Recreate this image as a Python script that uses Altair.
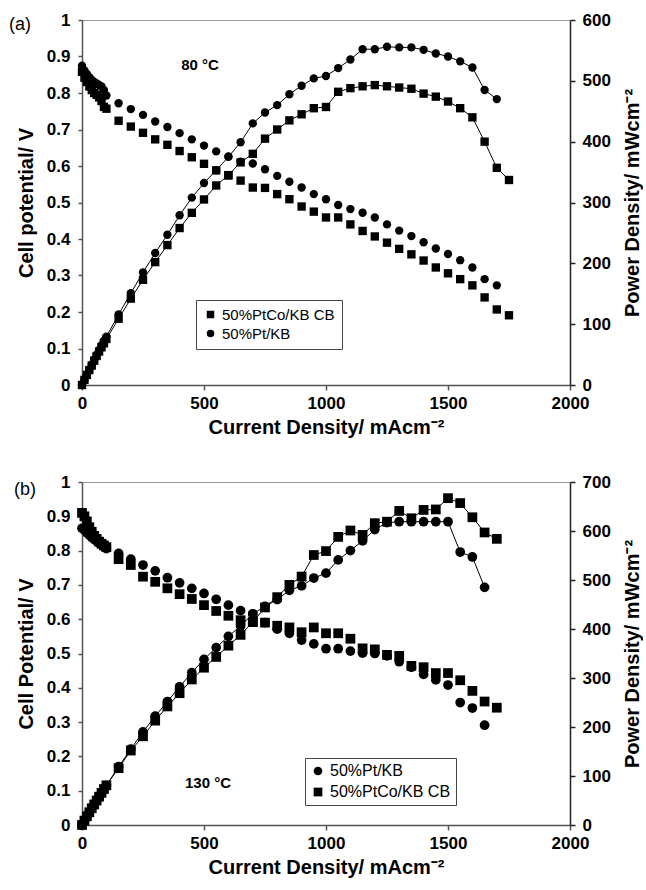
import altair as alt
import pandas as pd

FONT = "Liberation Sans"

# ---------------- 80 °C ----------------
CUR_80_PTCO = [0, 10, 20, 30, 40, 50, 60, 70, 80, 90, 100,
               150, 200, 250, 300, 350, 400, 450, 500, 550, 600,
               650, 700, 750, 800, 850, 900, 950, 1000, 1050, 1100,
               1150, 1200, 1250, 1300, 1350, 1400, 1450, 1500, 1550, 1600,
               1650, 1700, 1750]
V_80_PTCO = [0.858, 0.842, 0.830, 0.818, 0.808, 0.800, 0.795, 0.788, 0.778, 0.762, 0.757,
             0.724, 0.708, 0.691, 0.673, 0.658, 0.641, 0.624, 0.606, 0.588, 0.574,
             0.560, 0.541, 0.540, 0.523, 0.509, 0.489, 0.475, 0.459, 0.459, 0.440,
             0.422, 0.407, 0.390, 0.373, 0.358, 0.341, 0.322, 0.306, 0.290, 0.273,
             0.240, 0.207, 0.191]
P_80_PTCO = [0, 8.4, 16.6, 24.5, 32, 40, 47.7, 55, 62, 68.6, 75.7,
             109, 142, 173, 202, 230, 258, 283, 305, 328, 345,
             366, 380, 405, 420, 435, 445, 455, 457, 482, 488,
             491, 493, 491, 489, 487, 479, 474, 466, 455, 440,
             400, 357, 337]

CUR_80_PT = [0, 10, 20, 30, 40, 50, 60, 70, 80, 90, 100,
             150, 200, 250, 300, 350, 400, 450, 500, 550, 600,
             650, 700, 750, 800, 850, 900, 950, 1000, 1050, 1100,
             1150, 1200, 1250, 1300, 1350, 1400, 1450, 1500, 1550, 1600,
             1650, 1700]
V_80_PT = [0.875, 0.862, 0.852, 0.843, 0.836, 0.830, 0.826, 0.822, 0.818, 0.808, 0.793,
           0.772, 0.756, 0.740, 0.722, 0.707, 0.690, 0.673, 0.656, 0.640, 0.626,
           0.612, 0.607, 0.591, 0.573, 0.557, 0.541, 0.523, 0.509, 0.493, 0.482,
           0.472, 0.459, 0.440, 0.423, 0.408, 0.391, 0.374, 0.359, 0.342, 0.322,
           0.290, 0.273]
P_80_PT = [0, 8.6, 17, 25.3, 33.4, 41.5, 49.6, 57.5, 65.4, 72.7, 79.3,
           116, 151, 185, 217, 247, 279, 308, 332, 353, 375,
           399, 430, 448, 460, 478, 492, 504, 508, 521, 535,
           552, 552, 556, 555, 555, 551, 545, 540, 532, 522,
           485, 470]

# ---------------- 130 °C ----------------
CUR_130_PT = [0, 10, 20, 30, 40, 50, 60, 70, 80, 90, 100,
              150, 200, 250, 300, 350, 400, 450, 500, 550, 600,
              650, 700, 750, 800, 850, 900, 950, 1000, 1050, 1100,
              1150, 1200, 1250, 1300, 1350, 1400, 1450, 1500, 1550, 1600,
              1650]
V_130_PT = [0.865, 0.860, 0.852, 0.845, 0.838, 0.833, 0.828, 0.823, 0.818, 0.812, 0.806,
            0.792, 0.775, 0.758, 0.741, 0.721, 0.706, 0.690, 0.675, 0.658, 0.641,
            0.625, 0.615, 0.590, 0.571, 0.559, 0.539, 0.528, 0.514, 0.514, 0.507,
            0.501, 0.500, 0.493, 0.476, 0.460, 0.439, 0.423, 0.408, 0.357, 0.341,
            0.291]
P_130_PT = [0, 8.6, 17, 25.4, 33.5, 41.7, 49.7, 57.6, 65.4, 73, 80.6,
            119, 155, 190, 222, 252, 282, 311, 338, 362, 385,
            406, 431, 446, 460, 479, 488, 504, 514, 541, 560,
            580, 603, 617, 619, 619, 619, 619, 619, 557, 547,
            485]

CUR_130_PTCO = [0, 10, 20, 30, 40, 50, 60, 70, 80, 90, 100,
                150, 200, 250, 300, 350, 400, 450, 500, 550, 600,
                650, 700, 750, 800, 850, 900, 950, 1000, 1050, 1100,
                1150, 1200, 1250, 1300, 1350, 1400, 1450, 1500, 1550, 1600,
                1650, 1700]
V_130_PTCO = [0.910, 0.900, 0.885, 0.868, 0.855, 0.843, 0.834, 0.826, 0.820, 0.815, 0.810,
              0.775, 0.758, 0.724, 0.709, 0.690, 0.673, 0.659, 0.641, 0.624, 0.610,
              0.597, 0.592, 0.590, 0.581, 0.576, 0.562, 0.576, 0.559, 0.559, 0.543,
              0.515, 0.512, 0.496, 0.493, 0.464, 0.460, 0.443, 0.443, 0.422, 0.391,
              0.360, 0.342]
P_130_PTCO = [0, 9, 17.7, 26, 34.2, 42, 50, 57.8, 65.6, 73.4, 81,
              116, 152, 181, 213, 242, 269, 297, 321, 343, 366,
              388, 414, 444, 465, 490, 507, 551, 559, 588, 601,
              592, 616, 619, 641, 626, 643, 644, 667, 657, 628,
              597, 584]

PT = "50%Pt/KB"
PTCO = "50%PtCo/KB CB"

X_TICKS = [0, 500, 1000, 1500, 2000]
V_TICKS = [0, 0.1, 0.2, 0.3, 0.4, 0.5, 0.6, 0.7, 0.8, 0.9, 1.0]
P_TICKS_A = [0, 100, 200, 300, 400, 500, 600]
P_TICKS_B = [0, 100, 200, 300, 400, 500, 600, 700]

X_TITLE = "Current Density/ mAcm⁻²"
P_TITLE = "Power Density/ mWcm⁻²"


def series(cur, volt, power, name):
    return pd.DataFrame({"current": cur, "voltage": volt, "power": power, "series": name})


def panel(df, tag, temp, v_title, p_ticks, width, height, order, shapes,
          msize, leg_x, leg_y, leg_font, leg_row, leg_pad, temp_xy, tag_xy):
    x_enc = alt.X("current:Q",
                  scale=alt.Scale(domain=[0, 2000], nice=False, zero=False),
                  axis=alt.Axis(values=X_TICKS, format="d", title=X_TITLE,
                                tickSize=5, labelPadding=5, titlePadding=6,
                                labelFlush=False, domainColor="#555",
                                tickColor="#555"))
    legend = alt.Legend(title=None, orient="none", legendX=leg_x, legendY=leg_y,
                        strokeColor="#444", fillColor="white", padding=leg_pad,
                        labelFont=FONT, labelFontSize=leg_font, labelColor="black",
                        labelFontWeight="normal", symbolSize=msize * 0.8,
                        symbolFillColor="black", symbolStrokeColor="black",
                        symbolStrokeWidth=0, rowPadding=leg_row, labelOffset=4)
    shape_enc = alt.Shape("series:N", scale=alt.Scale(domain=order, range=shapes),
                          legend=legend)

    volt = alt.Chart(df).mark_point(filled=True, color="black", opacity=1,
                                    size=msize).encode(
        x=x_enc,
        y=alt.Y("voltage:Q", scale=alt.Scale(domain=[0, 1], nice=False),
                axis=alt.Axis(values=V_TICKS, format="~g", title=v_title,
                              orient="left", tickSize=4, labelPadding=8,
                              titlePadding=10, domainColor="#555",
                              tickColor="#555")),
        shape=shape_enc,
    )

    p_scale = alt.Scale(domain=[0, p_ticks[-1]], nice=False)
    p_axis = alt.Axis(values=p_ticks, title=P_TITLE, orient="right",
                      titleAngle=270, titleBaseline="top", tickSize=5,
                      labelPadding=7, titlePadding=12, domainColor="#222",
                      tickColor="#222")
    p_line = alt.Chart(df).mark_line(color="black", strokeWidth=1).encode(
        x=x_enc,
        y=alt.Y("power:Q", scale=p_scale, axis=p_axis),
        detail="series:N",
    )
    p_pts = alt.Chart(df).mark_point(filled=True, color="black", opacity=1,
                                     size=msize).encode(
        x=x_enc,
        y=alt.Y("power:Q", scale=p_scale, axis=p_axis),
        shape=shape_enc,
    )

    temp_txt = alt.Chart(pd.DataFrame({"t": [temp]})).mark_text(
        font=FONT, fontSize=15, fontWeight="bold", color="black",
        align="center", baseline="middle").encode(
        text="t:N", x=alt.value(temp_xy[0]), y=alt.value(temp_xy[1]))
    tag_txt = alt.Chart(pd.DataFrame({"t": [tag]})).mark_text(
        font=FONT, fontSize=18, color="black", align="left",
        baseline="middle").encode(
        text="t:N", x=alt.value(tag_xy[0]), y=alt.value(tag_xy[1]))

    return alt.layer(volt, alt.layer(p_line, p_pts), temp_txt, tag_txt).resolve_scale(
        y="independent").properties(width=width, height=height)


df_a = pd.concat([series(CUR_80_PTCO, V_80_PTCO, P_80_PTCO, PTCO),
                  series(CUR_80_PT, V_80_PT, P_80_PT, PT)], ignore_index=True)
df_b = pd.concat([series(CUR_130_PT, V_130_PT, P_130_PT, PT),
                  series(CUR_130_PTCO, V_130_PTCO, P_130_PTCO, PTCO)], ignore_index=True)

top = panel(df_a, "(a)", "80 °C", "Cell potential/ V", P_TICKS_A, 488, 365,
            [PTCO, PT], ["square", "circle"], 70, 114, 280, 15, 3, 7,
            (118, 45), (-73, 5))
bottom = panel(df_b, "(b)", "130 °C", "Cell Potential/ V", P_TICKS_B, 488, 343,
               [PT, PTCO], ["circle", "square"], 95, 223, 276, 16, 5, 5,
               (126, 301), (-68, 8))

chart = alt.vconcat(top, bottom, spacing=34).resolve_scale(
    x="independent", y="independent", shape="independent"
).resolve_legend(shape="independent").properties(
    padding={"left": 8, "top": 10, "right": 0, "bottom": 0}
).configure_axis(
    labelFont=FONT, labelFontSize=17, labelFontWeight="bold", labelColor="black",
    titleFont=FONT, titleFontSize=20, titleFontWeight="bold", titleColor="black",
    grid=False, domainWidth=1.5, tickWidth=1.5, labelOverlap=False,
).configure_view(stroke="#999", strokeWidth=1)

chart.save("out.html", embed_options={"renderer": "svg", "actions": False})
